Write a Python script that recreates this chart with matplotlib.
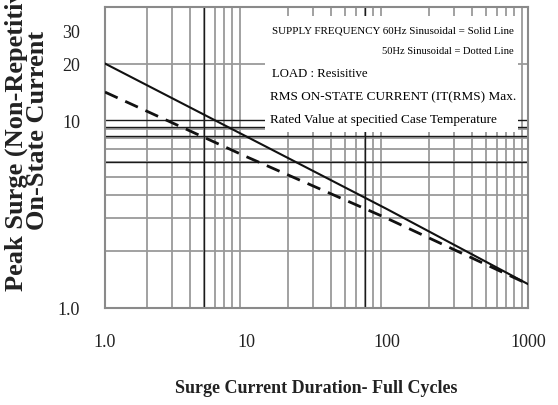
import numpy as np
import matplotlib
matplotlib.use("Agg")
import matplotlib.pyplot as plt
from matplotlib.patches import Rectangle

plt.rcParams["font.family"] = ["Liberation Serif", "DejaVu Serif"]

# surge rating curves (log-log)
cycles = [1, 10, 100, 1000]
surge_60hz = [20, 8.2, 3.36, 1.34]
surge_50hz = [14.1, 6.4, 3.0, 1.34]

# grid
x_minor = [m * d for d in (1, 10, 100) for m in range(2, 10)]
y_grid = [2, 3, 4, 5, 6, 7, 8, 9, 20]
x_dark = [5, 70]
y_dark = [10, 9.2, 8.2, 6]

ytick_vals = [1, 10, 20, 30]
ytick_labels = ["1.0", "10", "20", "30"]
xtick_vals = [1, 10, 100, 1000]
xtick_labels = ["1.0", "10", "100", "1000"]

fig = plt.figure(figsize=(5.58, 4.06), dpi=100)
ax = fig.add_axes([105 / 558, 1 - 309 / 406, 423 / 558, 301 / 406])
ax.set_xscale("log")
ax.set_yscale("log")
ax.set_xlim(1, 1000)
ax.set_ylim(1, 40)

for x in x_minor:
    ax.axvline(x, color="#9a9a9a", lw=1.3, zorder=1)
for y in y_grid:
    ax.axhline(y, color="#9a9a9a", lw=1.3, zorder=1)
for x in x_dark:
    ax.axvline(x, color="#1a1a1a", lw=1.0, zorder=1.5)
for y in y_dark:
    ax.axhline(y, color="#1a1a1a", lw=1.0, zorder=1.5)

ax.plot(cycles, surge_60hz, color="#111111", lw=1.5, zorder=3)
ax.plot(cycles, surge_50hz, color="#111111", lw=2.0, ls=(0, (5, 3)), zorder=3)

# white note box
ax.add_patch(Rectangle((0.378, 0.585), 0.598, 0.385, transform=ax.transAxes,
                       facecolor="white", edgecolor="none", zorder=4))
ax.text(0.394, 0.925, "SUPPLY FREQUENCY 60Hz Sinusoidal = Solid Line",
        transform=ax.transAxes, fontsize=7.9, va="center", ha="left", zorder=5)
ax.text(0.965, 0.857, "50Hz Sinusoidal = Dotted Line",
        transform=ax.transAxes, fontsize=7.6, va="center", ha="right", zorder=5)
ax.text(0.394, 0.78, "LOAD : Resisitive",
        transform=ax.transAxes, fontsize=9.2, va="center", ha="left", zorder=5)
ax.text(0.39, 0.703, "RMS ON-STATE CURRENT (IT(RMS) Max.",
        transform=ax.transAxes, fontsize=9.5, va="center", ha="left", zorder=5)
ax.text(0.39, 0.627, "Rated Value at specitied Case Temperature",
        transform=ax.transAxes, fontsize=9.5, va="center", ha="left", zorder=5)

for s in ax.spines.values():
    s.set_color("#8a8a8a")
    s.set_linewidth(1.5)

ax.set_xticks(xtick_vals)
ax.set_xticklabels(xtick_labels)
ax.set_yticks(ytick_vals)
ax.set_yticklabels(ytick_labels)
ax.minorticks_off()
ax.tick_params(axis="both", length=0, labelsize=13, colors="#222222")
ax.tick_params(axis="x", pad=18)
ax.tick_params(axis="y", pad=18)

ax.set_xlabel("Surge Current Duration- Full Cycles", fontsize=13,
              fontweight="bold", labelpad=21, color="#222222")
# the source image crops the top of this label as well
fig.text(27 / 558, 1 - 130 / 406, "Peak Surge (Non-Repetitive)\nOn-State Current",
         rotation=90, ha="center", va="center", fontsize=19, fontweight="bold",
         color="#222222", linespacing=0.88)

fig.savefig("out.png", dpi=100)
